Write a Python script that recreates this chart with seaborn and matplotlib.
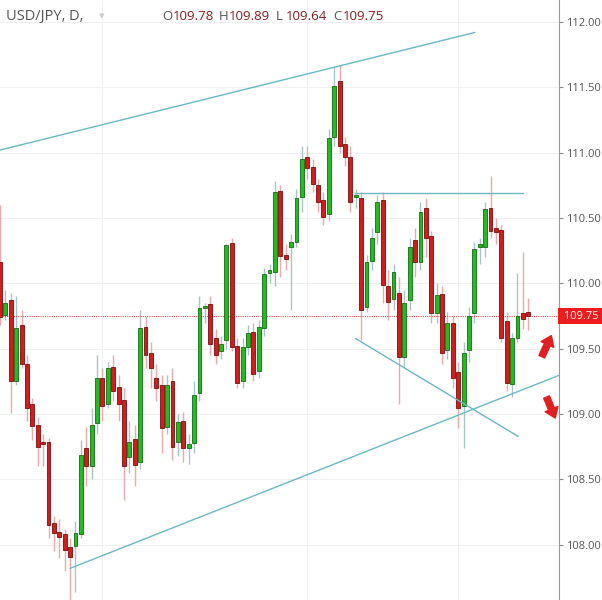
import numpy as np
import pandas as pd
import matplotlib
matplotlib.use("Agg")
import matplotlib.pyplot as plt
import seaborn as sns

opens = [110.16,109.76,109.87,109.25,109.68,109.38,109.08,108.92,108.78,108.79,
         108.17,108.10,108.08,107.98,107.99,108.08,108.74,108.60,108.93,109.28,
         109.08,109.36,109.21,109.11,108.67,108.81,108.63,109.67,109.47,109.28,
         109.22,108.90,109.25,108.79,108.95,108.74,108.78,109.16,109.81,109.84,
         109.58,109.48,109.57,110.31,109.52,109.25,109.51,109.63,109.33,109.66,
         110.08,110.09,110.71,110.22,110.28,110.32,110.66,110.97,110.89,110.75,
         110.64,110.53,111.12,111.55,111.07,110.97,110.66,110.65,109.82,110.17,
         110.39,110.64,109.98,109.88,109.93,109.44,109.87,110.33,110.16,110.58,
         110.36,109.77,109.92,109.49,109.70,109.32,109.06,109.49,109.77,110.28,
         110.28,110.58,110.42,110.41,109.71,109.23,109.58,109.77,109.78]
closes = [109.74,109.85,109.25,109.66,109.38,109.05,108.91,108.75,108.77,108.15,
          108.09,108.06,107.96,107.91,108.09,108.69,108.60,108.92,109.28,109.06,
          109.35,109.18,109.08,108.60,108.79,108.61,109.66,109.45,109.35,109.20,
          108.89,109.22,108.75,108.94,108.74,108.77,109.15,109.81,109.82,109.54,
          109.45,109.54,110.29,109.51,109.24,109.51,109.62,109.31,109.67,110.07,
          110.09,110.70,110.21,110.19,110.32,110.65,110.95,110.88,110.76,110.62,
          110.51,111.11,111.51,111.05,110.97,110.62,110.67,109.80,110.16,110.35,
          110.62,109.99,109.86,110.09,109.44,109.85,110.28,110.16,110.55,110.35,
          109.77,109.91,109.47,109.70,109.28,109.05,109.47,109.75,110.26,110.29,
          110.57,110.40,110.39,109.58,109.24,109.58,109.75,109.73,109.75]
highs = [110.60,109.95,109.93,109.90,109.80,109.45,109.12,108.98,108.85,108.82,
         108.22,108.20,108.12,108.05,108.18,108.80,108.90,109.05,109.45,109.35,
         109.40,109.45,109.30,109.20,108.95,108.92,109.80,109.75,109.55,109.38,
         109.30,109.30,109.35,109.00,109.02,108.85,109.25,109.90,109.85,109.90,
         109.65,109.60,110.30,110.35,109.58,109.58,109.68,109.70,109.72,110.12,
         110.15,110.78,110.75,110.30,110.38,110.72,111.05,111.05,110.95,110.80,
         110.70,111.18,111.66,111.67,111.12,111.05,110.72,110.70,110.22,110.42,
         110.68,110.70,110.10,110.15,110.05,109.95,110.35,110.42,110.62,110.65,
         110.40,110.00,109.98,109.78,109.75,109.40,109.55,109.82,110.32,110.35,
         110.62,110.82,110.50,110.45,109.78,109.62,110.08,110.24,109.89]
lows = [109.68,109.72,109.01,109.22,109.35,108.95,108.80,108.60,108.60,108.05,
        107.95,107.90,107.80,107.58,107.64,108.05,108.45,108.50,108.85,108.95,
        109.05,109.10,108.95,108.34,108.55,108.45,108.58,109.35,109.20,109.10,
        108.70,108.85,108.65,108.68,108.63,108.62,108.70,109.10,109.70,109.45,
        109.38,109.42,109.50,109.48,109.20,109.20,109.45,109.25,109.28,109.60,
        110.00,109.98,110.05,110.10,109.80,110.28,110.55,110.80,110.70,110.55,
        110.45,110.48,111.05,111.00,110.90,110.55,110.58,109.57,109.78,110.10,
        110.30,109.85,109.72,109.80,109.08,109.35,109.80,110.05,110.10,110.20,
        109.70,109.70,109.38,109.42,109.20,108.89,108.74,109.40,109.70,110.15,
        110.20,110.35,110.30,109.55,109.18,109.13,109.55,109.65,109.64]

yticks = [108.0, 108.5, 109.0, 109.5, 110.0, 110.5, 111.0, 111.5, 112.0]
last_price = 109.75

# trend lines: (x index, price)
line_upper = ([0.0, 88.1], [111.02, 111.92])
line_lower = ([13.0, 103.9], [107.82, 109.30])
line_horiz = ([65.9, 97.0], [110.69, 110.69])
line_desc = ([65.9, 96.1], [109.58, 108.83])

df = pd.DataFrame({"i": np.arange(len(opens)), "open": opens, "close": closes,
                   "high": highs, "low": lows})
df["up"] = df["close"] >= df["open"]

sns.set_style("white")
plt.rcParams['font.family'] = ['Open Sans', 'DejaVu Sans']
fig = plt.figure(figsize=(6.02, 6.00), dpi=100)
ax = fig.add_axes([0, 0, 559/602, 1])

GREEN, GREEN_E = "#22bb22", "#0f6e0f"
RED, RED_E = "#d41c1c", "#7a0c0c"

for y in yticks:
    ax.axhline(y, color="#f0f0f0", lw=0.8, zorder=0)
for xv in [19, 57, 85]:
    ax.axvline(xv, color="#f0f0f0", lw=0.8, zorder=0)

for up, wc in [(True, "#a9c4c4"), (False, "#f0a8a8")]:
    d = df[df["up"] == up]
    ax.vlines(d["i"], d["low"], d["high"], color=wc, lw=1.0, zorder=1)
    h = (d["close"] - d["open"]).abs().clip(lower=0.02)
    ax.bar(d["i"], h, bottom=d[["open", "close"]].min(axis=1), width=0.72,
           color=GREEN if up else RED, edgecolor=GREEN_E if up else RED_E,
           linewidth=0.6, zorder=2)

ax.axhline(last_price, color="#e05050", lw=0.8, ls=(0, (1, 1)), zorder=1.5)

for xs, ys in [line_upper, line_lower, line_horiz, line_desc]:
    sns.lineplot(x=xs, y=ys, ax=ax, color="#6ab8c4", lw=1.0, zorder=3)

ax.set_xlim(0, 103.7)
ax.set_ylim(107.578, 112.168)
ax.set_xticks([])
ax.yaxis.tick_right()
ax.set_yticks(yticks)
ax.set_yticklabels([f"{v:.2f}" for v in yticks], color="#555555", fontsize=8)
ax.tick_params(axis="y", length=3, color="#888888", pad=2)
for s in ["top", "left", "bottom"]:
    ax.spines[s].set_visible(False)
ax.spines["right"].set_color("#999999")
ax.set_xlabel(""); ax.set_ylabel("")

ax.text(1.004, last_price, " 109.75", transform=ax.get_yaxis_transform(),
        va="center", ha="left", fontsize=8, color="white",
        bbox=dict(boxstyle="square,pad=0.25", fc="#ee1c1c", ec="none"), clip_on=False)

# arrows
ax.annotate("", xy=(102.5, 109.62), xytext=(100.3, 109.42),
            arrowprops=dict(arrowstyle="simple,head_width=1.0,head_length=0.7,tail_width=0.45",
                            color="#e02020"))
ax.annotate("", xy=(103.2, 108.95), xytext=(101.2, 109.15),
            arrowprops=dict(arrowstyle="simple,head_width=1.0,head_length=0.7,tail_width=0.45",
                            color="#e02020"))

# header
fig.text(0.01, 0.972, "USD/JPY, D,", fontsize=10.5, color="#555555", va="center")
fig.text(0.165, 0.972, "▾", fontsize=8, color="#cccccc", va="center")
xs_h = [0.270, 0.363, 0.458, 0.553]
labels_h = [("O", "109.78"), ("H", "109.89"), ("L", "109.64"), ("C", "109.75")]
for x, (l, v) in zip(xs_h, labels_h):
    fig.text(x, 0.972, l, fontsize=9.5, color="#555555", va="center")
    fig.text(x + 0.017, 0.972, v, fontsize=9.5, color="#8b1a1a", va="center")

fig.savefig("out.png", dpi=100)
